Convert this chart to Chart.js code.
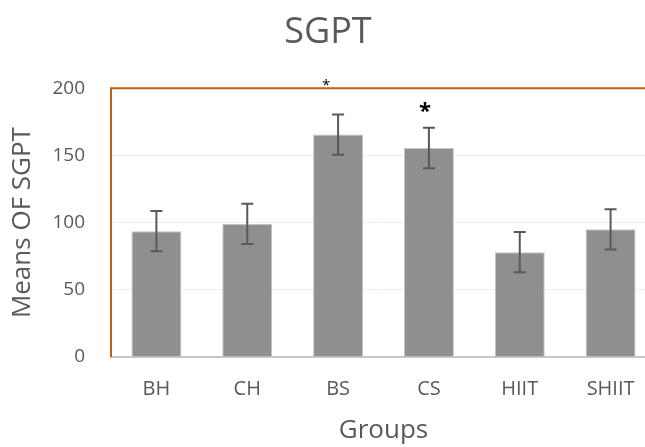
<!DOCTYPE html>
<html>
<head>
<meta charset="utf-8">
<title>SGPT</title>
<script src="https://cdn.jsdelivr.net/npm/chart.js@4"></script>
<style>
    html, body { margin: 0; padding: 0; background: #fff; overflow: hidden; }
</style>
</head>
<body>
<canvas id="sgptChart" width="660" height="447"></canvas>
<script>
// data
const groups = ['BH', 'CH', 'BS', 'CS', 'HIIT', 'SHIIT'];
const means = [93.6, 99, 165.5, 155.5, 78, 95];
const errors = [15, 15, 15, 15, 15, 15];
const marks = ['', '', '*', '*', '', ''];
const markLevels = [null, null, 205, 187, null, null];
const yTicks = [0, 50, 100, 150, 200];

const textGray = '#595959';
const font = "'Open Sans', sans-serif";

// error bars, asterisks and the orange frame
const extras = {
    id: 'extras',
    beforeDatasetsDraw(chart) {
        const { ctx, chartArea } = chart;
        ctx.save();
        ctx.strokeStyle = '#C55A11';
        ctx.lineWidth = 2;
        ctx.beginPath();
        ctx.moveTo(chartArea.left, chartArea.bottom);
        ctx.lineTo(chartArea.left, chartArea.top);
        ctx.lineTo(chartArea.right, chartArea.top);
        ctx.stroke();
        ctx.restore();
    },
    afterDatasetsDraw(chart) {
        const { ctx } = chart;
        const x = chart.scales.x;
        const y = chart.scales.y;
        ctx.save();
        ctx.strokeStyle = '#595959';
        ctx.lineWidth = 2;
        means.forEach((m, i) => {
            const cx = x.getPixelForValue(i);
            const top = y.getPixelForValue(m + errors[i]);
            const bot = y.getPixelForValue(m - errors[i]);
            ctx.beginPath();
            ctx.moveTo(cx, top);
            ctx.lineTo(cx, bot);
            ctx.moveTo(cx - 6, top);
            ctx.lineTo(cx + 6, top);
            ctx.moveTo(cx - 6, bot);
            ctx.lineTo(cx + 6, bot);
            ctx.stroke();
        });
        ctx.fillStyle = '#000';
        ctx.textAlign = 'center';
        ctx.textBaseline = 'middle';
        marks.forEach((mk, i) => {
            if (!mk) return;
            const cx = x.getPixelForValue(i);
            const cy = y.getPixelForValue(markLevels[i]);
            if (i === 2) {
                ctx.font = '15px ' + font;
                ctx.fillText(mk, cx - 12, cy + 4);
            } else {
                ctx.font = 'bold 22px ' + font;
                ctx.fillText(mk, cx - 4, cy + 6);
            }
        });
        ctx.restore();
    }
};

const ctx = document.getElementById('sgptChart').getContext('2d');

const sgptChart = new Chart(ctx, {
    type: 'bar',
    data: {
        labels: groups,
        datasets: [{
            label: 'SGPT',
            data: means,
            backgroundColor: '#8F8F8F',
            borderColor: '#C4C4C4',
            borderWidth: 1,
            barPercentage: 0.55,
            categoryPercentage: 1
        }]
    },
    options: {
        responsive: false,
        animation: false,
        layout: { padding: { left: 0, right: 4, top: 0, bottom: 0 } },
        plugins: {
            legend: { display: false },
            tooltip: { enabled: false },
            title: {
                display: true,
                text: 'SGPT',
                color: textGray,
                font: { family: font, size: 36, weight: 'normal' },
                padding: { top: 11, bottom: 34 }
            }
        },
        scales: {
            x: {
                grid: { display: false, drawTicks: false },
                border: { color: '#C8C8C8', width: 2 },
                ticks: {
                    color: textGray,
                    padding: 20,
                    font: { family: font, size: 20 }
                },
                title: {
                    display: true,
                    text: 'Groups',
                    color: textGray,
                    font: { family: font, size: 26 },
                    padding: { top: 0, bottom: 1 }
                },
                afterFit(scale) { scale.height = 90; }
            },
            y: {
                min: 0,
                max: 200,
                afterBuildTicks(scale) {
                    scale.ticks = yTicks.map(v => ({ value: v }));
                },
                grid: { color: '#EDEDED', lineWidth: 1, drawTicks: false },
                border: { display: false },
                ticks: {
                    color: textGray,
                    padding: 26,
                    font: { family: font, size: 19 }
                },
                title: {
                    display: true,
                    text: 'Means OF SGPT',
                    color: textGray,
                    font: { family: font, size: 26 },
                    padding: { top: 7, bottom: 0 }
                },
                afterFit(scale) { scale.width = 111; }
            }
        }
    },
    plugins: [extras]
});
</script>
</body>
</html>
